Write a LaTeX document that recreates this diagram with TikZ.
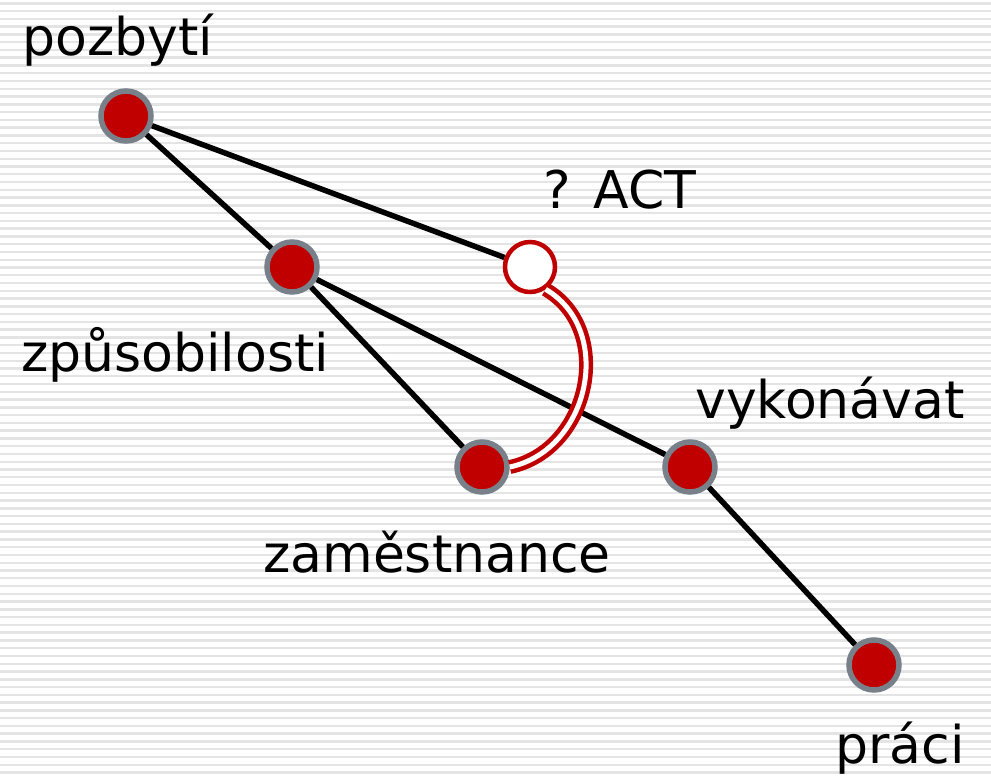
\documentclass[tikz,border=0pt]{standalone}
\usepackage{fontspec}
\setmainfont{DejaVu Sans}
\usetikzlibrary{arrows.meta}

\definecolor{dotred}{RGB}{192,0,0}
\definecolor{dotrim}{RGB}{120,128,138}
\definecolor{stripe}{RGB}{228,228,228}

\begin{document}
\begin{tikzpicture}[x=1pt,y=-1pt]
\useasboundingbox (0,0) rectangle (991,777);
%background stripes
\fill[white] (0,0) rectangle (991,777);
\foreach \i in {0,...,100}
    \draw[stripe,line width=2.4pt] (0,3.3+\i*7.77) -- (991,3.3+\i*7.77);

\begin{scope}[every node/.style={circle,line width=5.5pt,draw=dotrim,fill=dotred,minimum size=50pt,inner sep=0pt}]
    %the words as dots
    \node (pozbyti) at (126,116) {};
    \node (zpusob) at (292,267) {};
    \node (zames) at (482,467) {};
    \node (vykon) at (690,467) {};
    \node (praci) at (874,665) {};
\end{scope}
\node[circle,line width=4.5pt,draw=dotred,fill=white,minimum size=50pt,inner sep=0pt] (act) at (530,267) {};

%labels
\begin{scope}[every node/.style={font=\fontsize{52}{56}\selectfont,inner sep=0pt}]
    \node (lpozbyti) at (118,40) {pozbytí};
    \node (lzpusob) at (175,355) {způsobilosti};
    \node (lact) at (620,190) {? ACT};
    \node (lvykon) at (830,403) {vykonávat};
    \node (lzames) at (437,552) {zaměstnance};
    \node (lpraci) at (900,748) {práci};
\end{scope}

%black edges
\begin{scope}[every edge/.style={draw=black,line width=5.5pt}]
    \path (pozbyti) edge (zpusob);
    \path (pozbyti) edge (act);
    \path (zpusob) edge (zames);
    \path (zpusob) edge (vykon);
    \path (vykon) edge (praci);
\end{scope}

%red double link
\draw[dotred,double=white,double distance=5pt,line width=4.5pt]
    (zames.east) .. controls (590,450) and (615,330) .. (act.-55);
\end{tikzpicture}
\end{document}
